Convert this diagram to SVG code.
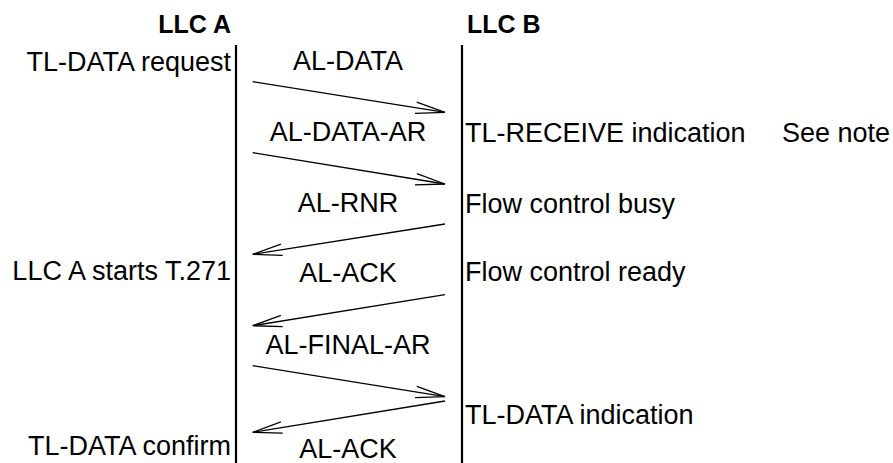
<svg xmlns="http://www.w3.org/2000/svg" width="893" height="463" viewBox="0 0 893 463">
<style>
text{font-family:"Liberation Sans",Arial,sans-serif;font-size:27px;fill:#000}
.h{font-weight:bold;font-size:25px}
.m{text-anchor:middle}
.e{text-anchor:end}
.life{stroke:#000;stroke-width:2.2;fill:none}
.msg{stroke:#000;stroke-width:1.3;fill:none}
</style>
<defs>
<marker id="ah" markerUnits="userSpaceOnUse" orient="auto" refX="0" refY="0" markerWidth="40" markerHeight="20" viewBox="-32 -10 40 20" overflow="visible">
<path d="M-29.5,-5.7 L0,0 L-29.5,5.7" fill="none" stroke="#000" stroke-width="1.3"/>
</marker>
</defs>
<rect width="893" height="463" fill="#fff"/>
<g id="llcA">
<text class="h e" x="231" y="33">LLC A</text>
<line class="life" x1="236" y1="45" x2="236" y2="463"/>
</g>
<g id="llcB">
<text class="h" x="467" y="33">LLC B</text>
<line class="life" x1="462" y1="45" x2="462" y2="463"/>
</g>
<g id="leftLabels">
<text class="e" x="231" y="71">TL-DATA request</text>
<text class="e" x="231" y="280">LLC A starts T.271</text>
<text class="e" x="231" y="455">TL-DATA confirm</text>
</g>
<g id="rightLabels">
<text x="465" y="142">TL-RECEIVE indication</text>
<text x="782" y="142">See note</text>
<text x="465" y="213">Flow control busy</text>
<text x="465" y="281">Flow control ready</text>
<text x="465" y="424">TL-DATA indication</text>
</g>
<g id="connectors">
<line class="msg" x1="252.7" y1="81.7" x2="445" y2="112.3" marker-end="url(#ah)"/>
<line class="msg" x1="252.7" y1="152.7" x2="445" y2="184" marker-end="url(#ah)"/>
<line class="msg" x1="445" y1="224" x2="252.7" y2="254.3" marker-end="url(#ah)"/>
<line class="msg" x1="445" y1="294.7" x2="252.7" y2="325.7" marker-end="url(#ah)"/>
<line class="msg" x1="252.7" y1="365.7" x2="445" y2="396.7" marker-end="url(#ah)"/>
<line class="msg" x1="445" y1="401" x2="252.7" y2="432.3" marker-end="url(#ah)"/>
<text class="m" x="348" y="70">AL-DATA</text>
<text class="m" x="348" y="141">AL-DATA-AR</text>
<text class="m" x="348" y="212">AL-RNR</text>
<text class="m" x="348" y="282">AL-ACK</text>
<text class="m" x="348" y="354">AL-FINAL-AR</text>
<text class="m" x="348" y="458">AL-ACK</text>
</g>
</svg>
